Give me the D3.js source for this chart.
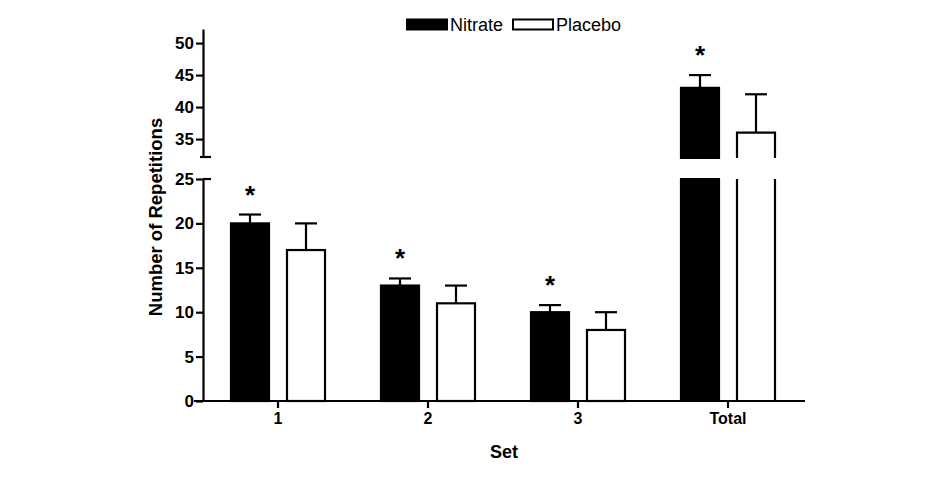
<!DOCTYPE html>
<html><head><meta charset="utf-8">
<script src="https://cdn.jsdelivr.net/npm/d3@7"></script>
<style>
html,body{margin:0;padding:0;background:#fff;}
svg{display:block;font-family:"Liberation Sans",Arial,Helvetica,sans-serif;}
</style>
</head><body>
<svg id="chart" width="940" height="480"></svg>
<script>
// ---- data ----
const categories = ["1", "2", "3", "Total"];
const seriesNames = ["Nitrate", "Placebo"];
const nitrateValues = [20, 13, 10, 43];
const nitrateErrors = [1, 0.8, 0.8, 2];
const placeboValues = [17, 11, 8, 36];
const placeboErrors = [3, 2, 2, 6];
const significant = [true, true, true, true];   // asterisk over Nitrate
const lowerTicks = [0, 5, 10, 15, 20, 25];
const upperTicks = [35, 40, 45, 50];
const lowerDomain = [0, 25];
const upperDomain = [32.2, 52.2];
const xTitle = "Set";
const yTitle = "Number of Repetitions";

// ---- layout ----
const svg = d3.select("#chart");
const axisX = 203, baseY = 401;
const x = d3.scaleBand().domain(categories).range([axisX, 803]).padding(0);
const xs = d3.scaleBand().domain(seriesNames).range([28, 122]).paddingInner(18/56).paddingOuter(0);
const yLow = d3.scaleLinear().domain(lowerDomain).range([baseY, 179]);
const yUp = d3.scaleLinear().domain(upperDomain).range([157, 29]);

const rows = categories.map((c, i) => [
  {cat: c, s: "Nitrate", v: nitrateValues[i], e: nitrateErrors[i], sig: significant[i]},
  {cat: c, s: "Placebo", v: placeboValues[i], e: placeboErrors[i], sig: false}
]).flat();

const yOf = v => v > lowerDomain[1] ? yUp(v) : yLow(v);

// bars
const g = svg.append("g");
rows.forEach(d => {
  const x0 = x(d.cat) + xs(d.s), x1 = x0 + xs.bandwidth();
  const fill = d.s === "Nitrate" ? "#000" : "#fff";
  if (d.v <= lowerDomain[1]) {
    g.append("rect").attr("x", x0).attr("y", yLow(d.v))
      .attr("width", x1 - x0).attr("height", baseY - yLow(d.v))
      .attr("fill", fill).attr("stroke", "#000").attr("stroke-width", 2.2);
  } else {
    // lower piece (open top)
    g.append("path")
      .attr("d", `M${x0},${yLow(lowerDomain[1])}V${baseY}H${x1}V${yLow(lowerDomain[1])}${d.s==="Nitrate"?"Z":""}`)
      .attr("fill", fill).attr("stroke", "#000").attr("stroke-width", 2.2);
    // upper piece (open bottom)
    g.append("path")
      .attr("d", `M${x0},${yUp(upperDomain[0])+1}V${yUp(d.v)}H${x1}V${yUp(upperDomain[0])+1}${d.s==="Nitrate"?"Z":""}`)
      .attr("fill", fill).attr("stroke", "#000").attr("stroke-width", 2.2);
  }
  // error bar (upper only)
  const cx = (x0 + x1) / 2;
  const yt = yOf(d.v + d.e);
  g.append("line").attr("x1", cx).attr("x2", cx).attr("y1", yOf(d.v)).attr("y2", yt)
    .attr("stroke", "#000").attr("stroke-width", 2.2);
  g.append("line").attr("x1", cx - 11).attr("x2", cx + 11).attr("y1", yt).attr("y2", yt)
    .attr("stroke", "#000").attr("stroke-width", 2.2);
  if (d.sig) {
    g.append("text").attr("x", cx).attr("y", yt - 11).attr("text-anchor", "middle")
      .attr("font-size", 26).attr("font-weight", "bold").text("*");
  }
});

// y axes
function styleAxis(sel) {
  sel.selectAll("path").attr("stroke", "#000").attr("stroke-width", 2.2);
  sel.selectAll("line").attr("stroke", "#000").attr("stroke-width", 2.2);
  sel.selectAll("text").attr("font-size", 17).attr("font-weight", "bold").attr("fill", "#000");
}
const lowAxis = svg.append("g").attr("transform", `translate(${axisX},0)`)
  .call(d3.axisLeft(yLow).tickValues(lowerTicks).tickSize(7).tickSizeOuter(0).tickPadding(2));
styleAxis(lowAxis);
const upAxis = svg.append("g").attr("transform", `translate(${axisX},0)`)
  .call(d3.axisLeft(yUp).tickValues(upperTicks).tickSize(7).tickSizeOuter(0).tickPadding(2));
styleAxis(upAxis);
// break caps
svg.append("line").attr("x1", axisX - 3).attr("x2", axisX + 8)
  .attr("y1", yUp(upperDomain[0])).attr("y2", yUp(upperDomain[0]))
  .attr("stroke", "#000").attr("stroke-width", 2.2);
svg.append("line").attr("x1", axisX).attr("x2", axisX + 8)
  .attr("y1", yLow(lowerDomain[1])).attr("y2", yLow(lowerDomain[1]))
  .attr("stroke", "#000").attr("stroke-width", 2.2);

// x axis
const xAxis = svg.append("g").attr("transform", `translate(0,${baseY})`)
  .call(d3.axisBottom(x).tickSize(7).tickSizeOuter(0).tickPadding(5));
xAxis.select("path").attr("d", `M${axisX - 9},0H805`);
styleAxis(xAxis);
xAxis.selectAll("text").attr("font-size", 16);

// titles
svg.append("text").attr("x", 504).attr("y", 458).attr("text-anchor", "middle")
  .attr("font-size", 18).attr("font-weight", "bold").text(xTitle);
svg.append("text").attr("transform", "translate(162,217) rotate(-90)").attr("text-anchor", "middle")
  .attr("font-size", 18.5).attr("font-weight", "bold").text(yTitle);

// legend
const legend = svg.append("g");
const legX = [407, 513];
seriesNames.forEach((s, i) => {
  legend.append("rect").attr("x", legX[i]).attr("y", 19.5).attr("width", 40).attr("height", 10)
    .attr("fill", i === 0 ? "#000" : "#fff").attr("stroke", "#000").attr("stroke-width", 2);
  legend.append("text").attr("x", legX[i] + 43).attr("y", 31)
    .attr("font-size", 18).attr("fill", "#000").text(s);
});
</script>
</body></html>
